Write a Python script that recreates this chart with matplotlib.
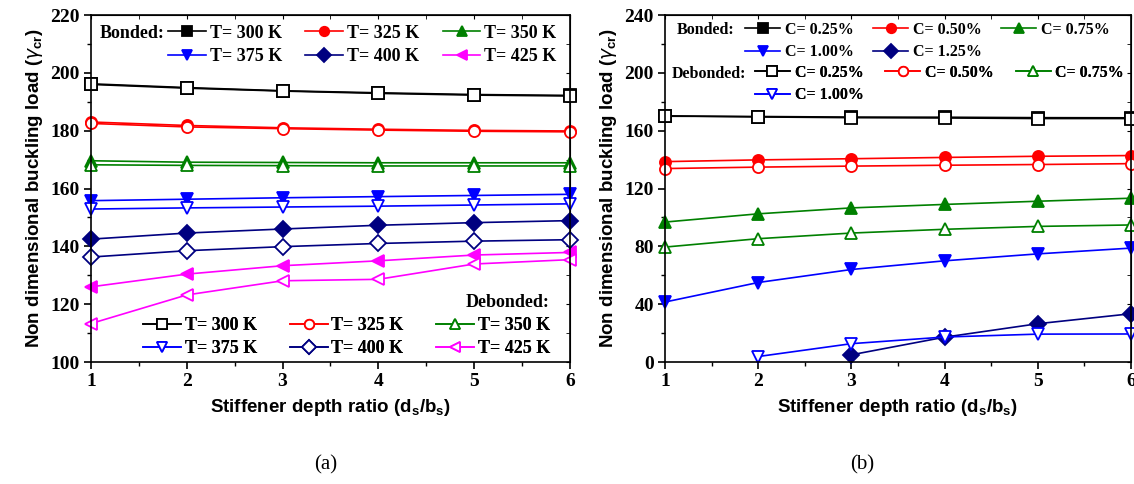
import numpy as np
import matplotlib
matplotlib.use('Agg')
import matplotlib.pyplot as plt
from matplotlib.ticker import MultipleLocator

# -------------------------------------------------------
# DATOS
# -------------------------------------------------------
ratio = [1, 2, 3, 4, 5, 6]

# (a) efecto de la temperatura
temps = ['300', '325', '350', '375', '400', '425']
t_bonded = [
    [196.2, 194.9, 193.8, 193.1, 192.5, 192.2],
    [183.0, 181.8, 181.0, 180.5, 180.1, 179.9],
    [169.6, 169.1, 169.0, 168.9, 168.9, 168.9],
    [155.8, 156.3, 156.8, 157.2, 157.6, 158.0],
    [142.5, 144.6, 146.0, 147.3, 148.2, 148.9],
    [126.0, 130.4, 133.3, 135.0, 137.0, 137.9],
]
t_debonded = [
    [196.0, 194.7, 193.7, 192.9, 192.3, 192.0],
    [182.5, 181.3, 180.7, 180.2, 179.8, 179.6],
    [168.2, 168.0, 167.9, 167.8, 167.8, 167.8],
    [152.9, 153.3, 153.6, 153.9, 154.3, 154.7],
    [136.3, 138.5, 139.9, 141.0, 141.8, 142.3],
    [113.3, 123.2, 128.1, 128.6, 133.9, 135.4],
]

# (b) efecto de la humedad
concs = ['0.25', '0.50', '0.75', '1.00', '1.25']
c_bonded = [
    [170.0, 169.8, 169.4, 169.3, 169.0, 168.9],
    [138.6, 139.8, 140.6, 141.5, 142.3, 142.8],
    [96.8, 102.5, 106.6, 109.0, 111.2, 113.3],
    [41.5, 55.0, 64.0, 70.0, 74.8, 78.8],
    [np.nan, np.nan, 5.0, 17.2, 26.5, 33.4],
]
c_debonded = [
    [170.3, 169.5, 169.0, 168.8, 168.4, 168.4],
    [133.8, 134.8, 135.5, 136.1, 136.6, 137.2],
    [79.5, 85.3, 89.2, 91.8, 93.8, 94.8],
    [np.nan, 3.8, 12.7, 17.3, 19.3, 19.4],
]

colors = ['black', 'red', 'green', 'blue', '#000080', 'magenta']
markers = ['s', 'o', '^', 'v', 'D', '<']

SERIF = 'Liberation Serif'
SANS = 'Liberation Sans'
LEG_A = {'family': SERIF, 'weight': 'bold', 'size': 13}
LEG_B = {'family': SERIF, 'weight': 'bold', 'size': 11.5}


def style_axes(ax, ymin, ymax, ystep):
    ax.set_xlim(1, 6)
    ax.set_ylim(ymin, ymax)
    ax.xaxis.set_major_locator(MultipleLocator(1))
    ax.xaxis.set_minor_locator(MultipleLocator(0.5))
    ax.yaxis.set_major_locator(MultipleLocator(ystep))
    ax.yaxis.set_minor_locator(MultipleLocator(ystep / 2))
    ax.tick_params(which='both', direction='out', top=False, right=False)
    ax.tick_params(which='major', length=5, width=1.2, pad=3)
    ax.tick_params(which='minor', length=3, width=1.0)
    for lab in ax.get_xticklabels() + ax.get_yticklabels():
        lab.set_fontfamily(SERIF)
        lab.set_fontweight('bold')
        lab.set_fontsize(14)
    for s in ax.spines.values():
        s.set_linewidth(1.2)
    # ticks hacia dentro en los lados opuestos
    sec = ax.secondary_xaxis('top')
    sec.xaxis.set_major_locator(MultipleLocator(1))
    sec.xaxis.set_minor_locator(MultipleLocator(0.5))
    sec.tick_params(which='both', direction='in', labeltop=False, length=3)
    sec2 = ax.secondary_yaxis('right')
    sec2.yaxis.set_major_locator(MultipleLocator(ystep))
    sec2.yaxis.set_minor_locator(MultipleLocator(ystep / 2))
    sec2.tick_params(which='both', direction='in', labelright=False, length=3)
    ax.set_xlabel(r'Stiffener depth ratio (d$_\mathregular{s}$/b$_\mathregular{s}$)',
                  fontfamily=SANS, fontweight='bold', fontsize=13.5, labelpad=5)
    ax.set_ylabel(r'Non dimensional buckling load ($\gamma_{\mathregular{cr}}$)',
                  fontfamily=SANS, fontweight='bold', fontsize=13.5, labelpad=4)


def draw(ax, values, idx, filled):
    c = colors[idx]
    ln, = ax.plot(ratio, values, color=c, lw=1.2, marker=markers[idx], ms=8,
                  mec=c, mew=1.3, mfc=c if filled else 'white', clip_on=False)
    return ln


def col_order(items, ncol):
    # reordenar para que la leyenda se llene por filas
    nrows = int(np.ceil(len(items) / ncol))
    out = []
    for c in range(ncol):
        for r in range(nrows):
            k = r * ncol + c
            if k < len(items):
                out.append(items[k])
    return out


def add_legend(ax, handles, labels, prop, anchor, loc, hl, hp, cs, ls):
    o = col_order(list(zip(handles, labels)), 3)
    leg = ax.legend([h for h, _ in o], [l for _, l in o], ncol=3, prop=prop,
                    loc=loc, bbox_to_anchor=anchor, frameon=False,
                    handlelength=hl, handletextpad=hp, columnspacing=cs,
                    labelspacing=ls, borderpad=0, borderaxespad=0,
                    markerscale=0.85)
    ax.add_artist(leg)
    return leg


fig = plt.figure(figsize=(11.34, 4.84), dpi=100)
ax1 = fig.add_axes([0.0802, 0.252, 0.4224, 0.717])
ax2 = fig.add_axes([0.5864, 0.252, 0.411, 0.717])

# ---------------- (a) ----------------
hb, hd = [], []
for i in range(len(temps)):
    hb.append(draw(ax1, t_bonded[i], i, True))
for i in range(len(temps)):
    hd.append(draw(ax1, t_debonded[i], i, False))
style_axes(ax1, 100, 220, 20)

lab_t = ['T= %s K' % t for t in temps]
add_legend(ax1, hb, lab_t, LEG_A, (0.161, 0.972), 'upper left', 2.1, 0.2, 1.3, 0.35)
ax1.text(0.019, 0.947, 'Bonded:', transform=ax1.transAxes, fontdict=LEG_A,
         va='center', ha='left')
add_legend(ax1, hd, lab_t, LEG_A, (0.958, 0.014), 'lower right', 2.1, 0.2, 1.8, 0.35)
ax1.text(0.958, 0.172, 'Debonded:', transform=ax1.transAxes, fontdict=LEG_A,
         va='center', ha='right')

# ---------------- (b) ----------------
hb, hd = [], []
for i in range(len(c_bonded)):
    hb.append(draw(ax2, c_bonded[i], i, True))
for i in range(len(c_debonded)):
    hd.append(draw(ax2, c_debonded[i], i, False))
style_axes(ax2, 0, 240, 40)

lab_c = ['C= %s%%' % c for c in concs]
add_legend(ax2, hb, lab_c, LEG_B, (0.172, 0.981), 'upper left', 2.2, 0.3, 1.2, 0.42)
ax2.text(0.026, 0.957, 'Bonded:', transform=ax2.transAxes, fontdict=LEG_B,
         va='center', ha='left')
add_legend(ax2, hd, lab_c[:4], LEG_B, (0.193, 0.857), 'upper left', 2.2, 0.3, 1.35, 0.42)
ax2.text(0.015, 0.830, 'Debonded:', transform=ax2.transAxes, fontdict=LEG_B,
         va='center', ha='left')

fig.text(0.287, 0.03, '(a)', fontfamily=SERIF, fontsize=15, ha='center')
fig.text(0.76, 0.03, '(b)', fontfamily=SERIF, fontsize=15, ha='center')

fig.savefig('out.png', dpi=100)
